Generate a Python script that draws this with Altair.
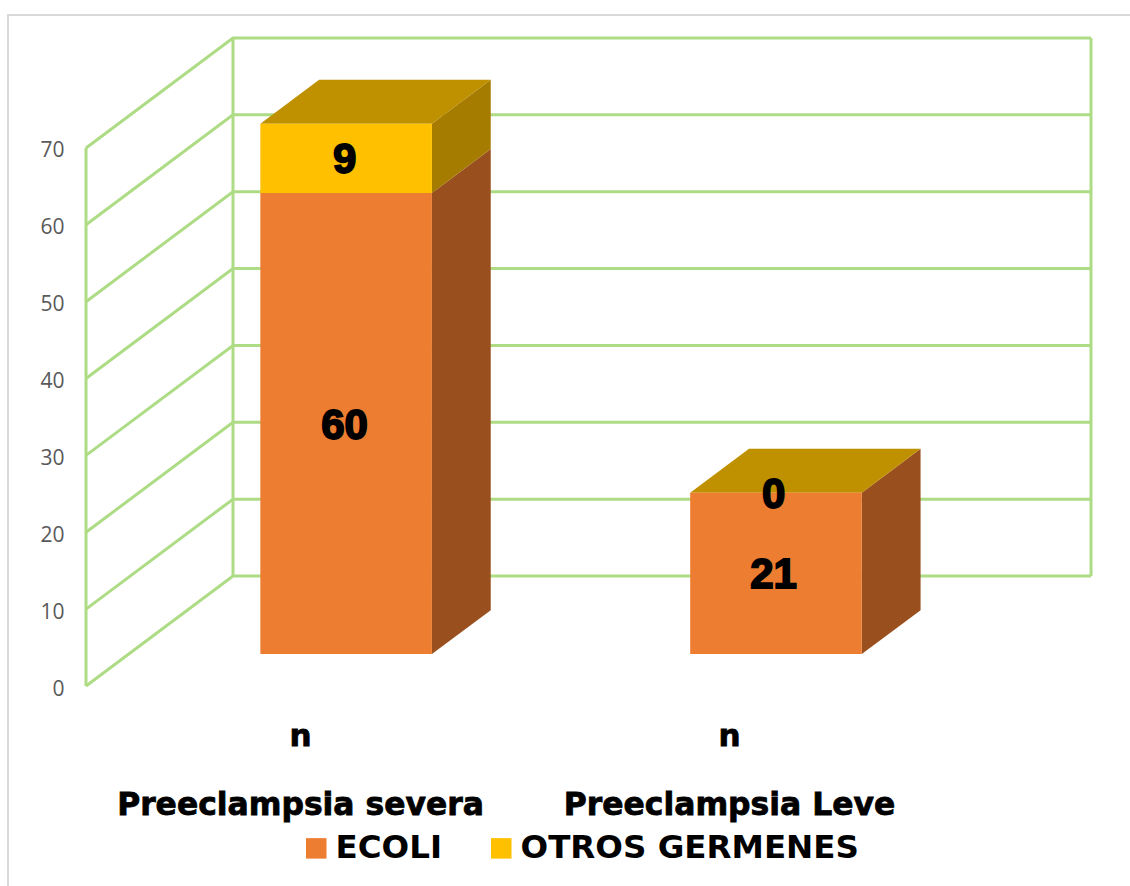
import altair as alt
import pandas as pd

# Source values
categories = ["Preeclampsia severa", "Preeclampsia Leve"]
ecoli = [60, 21]
otros = [9, 0]
series_names = ["ECOLI", "OTROS GERMENES"]
sublabel = ["n", "n"]
ticks = [0, 10, 20, 30, 40, 50, 60, 70]

# Oblique projection: a point at depth d (0 front .. 1 back) shifts right and up
DEPTH_X = 147 / 429      # in category widths
DEPTH_Y = 110 / 7.69     # in value units
D0, D1 = 0.29, 0.69      # depth span of the columns
HALF = 0.2               # half column width, in category widths
CENTER = 0.507           # centre of the first column within its category
STEP = 1.002             # distance between column centres
TOP = 70 + DEPTH_Y

ORANGE, ORANGE_SIDE = "#ED7D31", "#9A4F1E"
GOLD, GOLD_SIDE, GOLD_TOP = "#FFC000", "#A67C00", "#BF9000"
GRID = "#ADDC85"


def proj_x(pos, d):
    return pos + d * DEPTH_X


def proj_y(val, d):
    return val + d * DEPTH_Y


# Wall and floor grid
grid_rows = []
gid = 0
for t in ticks:
    grid_rows += [
        {"g": gid, "x": proj_x(0, 0), "y": proj_y(t, 0)},
        {"g": gid, "x": proj_x(0, 1), "y": proj_y(t, 1)},
        {"g": gid, "x": proj_x(2, 1), "y": proj_y(t, 1)},
    ]
    gid += 1
for px, d in [(0, 0), (0, 1), (2, 1)]:
    grid_rows += [
        {"g": gid, "x": proj_x(px, d), "y": proj_y(0, d)},
        {"g": gid, "x": proj_x(px, d), "y": proj_y(70, d)},
    ]
    gid += 1
grid_df = pd.DataFrame(grid_rows)

# Column faces
front, sides, tops, labels = [], [], [], []
for i, cat in enumerate(categories):
    c = CENTER + i * STEP
    xl, xr = proj_x(c - HALF, D0), proj_x(c + HALF, D0)
    sx = (D1 - D0) * DEPTH_X
    sy = (D1 - D0) * DEPTH_Y
    base = 0
    for name, v, side in [(series_names[0], ecoli[i], ORANGE_SIDE),
                          (series_names[1], otros[i], GOLD_SIDE)]:
        b, t = proj_y(base, D0), proj_y(base + v, D0)
        front.append({"x": xl, "x2": xr, "y": b, "y2": t, "serie": name})
        key = f"{i}-{name}"
        sides += [
            {"f": key, "c": side, "x": xr, "y": b, "y2": t},
            {"f": key, "c": side, "x": xr + sx, "y": b + sy, "y2": t + sy},
        ]
        labels.append({"x": proj_x(i + 0.5, 0.3), "y": (b + t) / 2, "v": str(v)})
        base += v
    t = proj_y(base, D0)
    tops += [
        {"f": i, "x": xl, "y": t, "y2": t},
        {"f": i, "x": xl + sx, "y": t, "y2": t + sy},
        {"f": i, "x": xr, "y": t, "y2": t + sy},
        {"f": i, "x": xr + sx, "y": t + sy, "y2": t + sy},
    ]

X = alt.X("x:Q", axis=None,
          scale=alt.Scale(domain=[0, 2 + DEPTH_X], range=[86, 1091]))
Y = alt.Y("y:Q", title=None,
          scale=alt.Scale(domain=[0, TOP], range=[686, 38]),
          axis=alt.Axis(values=ticks, offset=-66, labelPadding=2, labelOffset=3,
                        ticks=False, domain=False, grid=False, labelFont="Open Sans",
                        labelFontSize=21, labelColor="#595959", labelAlign="right"))

frame = alt.Chart(pd.DataFrame({"a": [0]})).mark_rect(
    fill="transparent", stroke="#D9D9D9", strokeWidth=2
).encode(x=alt.value(8), x2=alt.value(1160), y=alt.value(15), y2=alt.value(900))

grid = alt.Chart(grid_df).mark_line(color=GRID, strokeWidth=3, strokeJoin="miter").encode(
    x=X, y=Y, detail="g:N", order=alt.Order("idx:Q")
).transform_window(idx="row_number()", groupby=["g"])

side_layer = alt.Chart(pd.DataFrame(sides)).mark_area(opacity=1).encode(
    x=X, y=Y, y2="y2:Q", detail="f:N", fill=alt.Fill("c:N", scale=None)
)
top_layer = alt.Chart(pd.DataFrame(tops)).mark_area(color=GOLD_TOP, opacity=1).encode(
    x=X, y=Y, y2="y2:Q", detail="f:N"
)
front_layer = alt.Chart(pd.DataFrame(front)).mark_rect(opacity=1).encode(
    x=X, x2="x2:Q", y=Y, y2="y2:Q",
    color=alt.Color(
        "serie:N", title=None,
        scale=alt.Scale(domain=series_names, range=[ORANGE, GOLD]),
        legend=alt.Legend(orient="none", legendX=300, legendY=832, direction="horizontal",
                          padding=0, symbolType="square", symbolSize=420,
                          symbolStrokeWidth=0, labelFont="DejaVu Sans", labelFontWeight="bold",
                          labelFontSize=32.5, labelColor="black", labelOffset=3,
                          labelLimit=500, columnPadding=43, symbolOpacity=1),
    ),
)
value_text = alt.Chart(pd.DataFrame(labels)).mark_text(
    font="Liberation Sans", fontWeight="bold", fontSize=42, color="black",
    stroke="black", strokeWidth=1.8, baseline="middle", align="center", dy=2
).encode(x=X, y=Y, text="v:N")

axis_df = pd.DataFrame({
    "x": [c + 0.5 for c in range(len(categories))],
    "cat": categories,
    "sub": sublabel,
})
heavy = dict(font="DejaVu Sans", fontWeight="bold", color="black", stroke="black",
             baseline="middle", align="center")
sub_text = alt.Chart(axis_df).mark_text(fontSize=31, strokeWidth=0.8, **heavy).encode(
    x=X, y=alt.value(737), text="sub:N"
)
cat_text = alt.Chart(axis_df).mark_text(fontSize=31.4, strokeWidth=0.8, **heavy).encode(
    x=X, y=alt.value(806), text="cat:N"
)

chart = alt.layer(
    frame, grid, side_layer, top_layer, front_layer, value_text, sub_text, cat_text
).properties(
    width=1130, height=886, padding=0, autosize=alt.AutoSizeParams(type="none"),
    background="white",
).configure_view(stroke=None)

chart.save("out.html", embed_options={"renderer": "svg", "actions": False})
